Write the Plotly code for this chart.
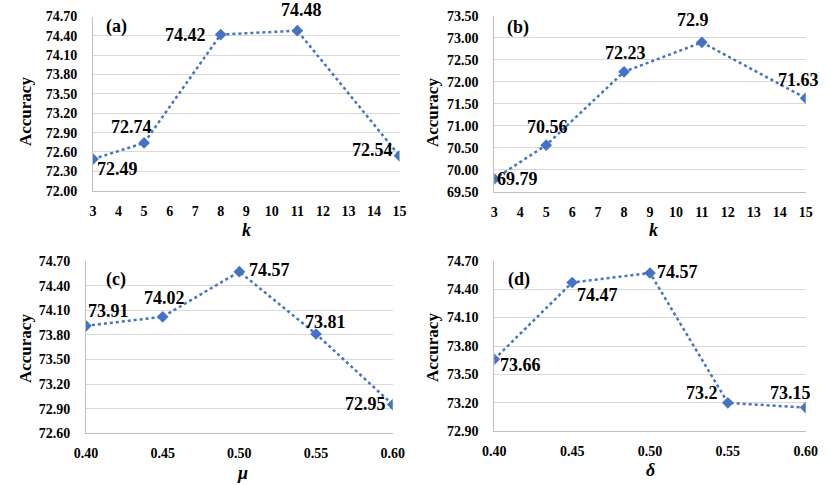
import plotly.graph_objects as go

# panel (a): neighbourhood size k
k_a = [3, 5, 8, 11, 15]
acc_a = [72.49, 72.74, 74.42, 74.48, 72.54]
# panel (b): neighbourhood size k, second dataset
k_b = [3, 5, 8, 11, 15]
acc_b = [69.79, 70.56, 72.23, 72.9, 71.63]
# panel (c): mu
mu_c = [0.40, 0.45, 0.50, 0.55, 0.60]
acc_c = [73.91, 74.02, 74.57, 73.81, 72.95]
# panel (d): delta
delta_d = [0.40, 0.45, 0.50, 0.55, 0.60]
acc_d = [73.66, 74.47, 74.57, 73.2, 73.15]

labels_a = ["72.49", "72.74", "74.42", "74.48", "72.54"]
labels_b = ["69.79", "70.56", "72.23", "72.9", "71.63"]
labels_c = ["73.91", "74.02", "74.57", "73.81", "72.95"]
labels_d = ["73.66", "74.47", "74.57", "73.2", "73.15"]

# pixel offsets of the data labels (dx right, dy down)
off_a = [(24, 10), (-13, -16), (-35, 0), (4, -21), (-27, -6)]
off_b = [(23, 0), (1, -18), (1, -19), (-9, -22), (-7, -18)]
off_c = [(22, -15), (2, -19), (30, -2), (9, -12), (-27, -1)]
off_d = [(26, 6), (25, 12), (27, -1), (-26, -10), (-15, -15)]

line_col = "#4472C4"
grid_col = "#D9D9D9"
axis_col = "#BFBFBF"
font_name = "Liberation Serif"

W, H = 831, 485


def px(p):
    return p / W


def py(p):
    return 1 - p / H


fig = go.Figure()

panels = [
    ("x", "y", k_a, acc_a, labels_a, off_a),
    ("x2", "y2", k_b, acc_b, labels_b, off_b),
    ("x3", "y3", mu_c, acc_c, labels_c, off_c),
    ("x4", "y4", delta_d, acc_d, labels_d, off_d),
]

annotations = []
for xr, yr, xs, ys, labs, offs in panels:
    fig.add_trace(go.Scatter(
        x=xs, y=ys, xaxis=xr, yaxis=yr,
        mode="lines+markers",
        line=dict(color=line_col, width=2.5, dash="dot"),
        marker=dict(symbol="diamond", size=9, color=line_col),
        showlegend=False,
    ))
    for xv, yv, t, (dx, dy) in zip(xs, ys, labs, offs):
        annotations.append(dict(
            x=xv, y=yv, xref=xr, yref=yr, text="<b>%s</b>" % t,
            showarrow=False, xshift=dx, yshift=-dy,
            xanchor="center", yanchor="middle",
            font=dict(family=font_name, size=18, color="black"),
        ))

# panel letters
for xr, yr, txt, fx, fy in [("x", "y", "(a)", 0.078, 0.945),
                            ("x2", "y2", "(b)", 0.076, 0.937),
                            ("x3", "y3", "(c)", 0.098, 0.89),
                            ("x4", "y4", "(d)", 0.079, 0.887)]:
    annotations.append(dict(
        x=fx, y=fy, xref=xr + " domain", yref=yr + " domain",
        text="<b>%s</b>" % txt, showarrow=False,
        xanchor="center", yanchor="middle",
        font=dict(family=font_name, size=18, color="black"),
    ))

# axis titles
for txt, tx, ty in [("<b><i>k</i></b>", 246, 230),
                    ("<b><i>k</i></b>", 653, 230),
                    ("<b><i>μ</i></b>", 242, 473),
                    ("<b><i>δ</i></b>", 650, 470)]:
    annotations.append(dict(
        x=px(tx), y=py(ty), xref="paper", yref="paper", text=txt,
        showarrow=False, xanchor="center", yanchor="middle",
        font=dict(family=font_name, size=18, color="black"),
    ))
for tx, ty in [(25, 112), (432, 112), (25, 349), (432, 347)]:
    annotations.append(dict(
        x=px(tx), y=py(ty), xref="paper", yref="paper",
        text="<b>Accuracy</b>", showarrow=False, textangle=-90,
        xanchor="center", yanchor="middle",
        font=dict(family=font_name, size=17, color="black"),
    ))

tick_font = dict(family=font_name, size=14, color="black", weight="bold")


def xaxis(left, right, rng, dtick, fmt, anchor):
    return dict(domain=[px(left), px(right)], range=rng, tick0=rng[0], dtick=dtick,
                tickformat=fmt, showgrid=False, zeroline=False, showline=True,
                linecolor=axis_col, linewidth=1, ticks="", tickfont=tick_font,
                ticklabelstandoff=7, automargin=False, anchor=anchor, fixedrange=True)


def yaxis(bottom, top, rng, dtick, anchor):
    return dict(domain=[py(bottom), py(top)], range=[rng[0], rng[1] + 1e-6],
                tick0=rng[0], dtick=dtick, tickformat=".2f", showgrid=True,
                gridcolor=grid_col, gridwidth=1, zeroline=False, showline=True,
                linecolor=axis_col, linewidth=1, ticks="", tickfont=tick_font,
                ticklabelstandoff=12, automargin=False, anchor=anchor, fixedrange=True)


fig.update_layout(
    template="none",
    width=W, height=H,
    margin=dict(l=0, r=0, t=0, b=0, autoexpand=False),
    paper_bgcolor="white", plot_bgcolor="white",
    xaxis=xaxis(93, 399.5, [3, 15], 1, "d", "y"),
    yaxis=yaxis(190.7, 16.5, [72.0, 74.7], 0.3, "x"),
    xaxis2=xaxis(494.3, 805.7, [3, 15], 1, "d", "y2"),
    yaxis2=yaxis(191.7, 16, [69.5, 73.5], 0.5, "x2"),
    xaxis3=xaxis(86, 392.7, [0.40, 0.60], 0.05, ".2f", "y3"),
    yaxis3=yaxis(433.3, 261, [72.6, 74.7], 0.3, "x3"),
    xaxis4=xaxis(494.3, 805.7, [0.40, 0.60], 0.05, ".2f", "y4"),
    yaxis4=yaxis(431.3, 260.7, [72.9, 74.7], 0.3, "x4"),
    annotations=annotations,
)

# drop the browser's default 8px body margin so the figure sits at the page corner
fig.write_html("out.html", config=dict(displayModeBar=False),
               post_script="document.body.style.margin = '0';")
